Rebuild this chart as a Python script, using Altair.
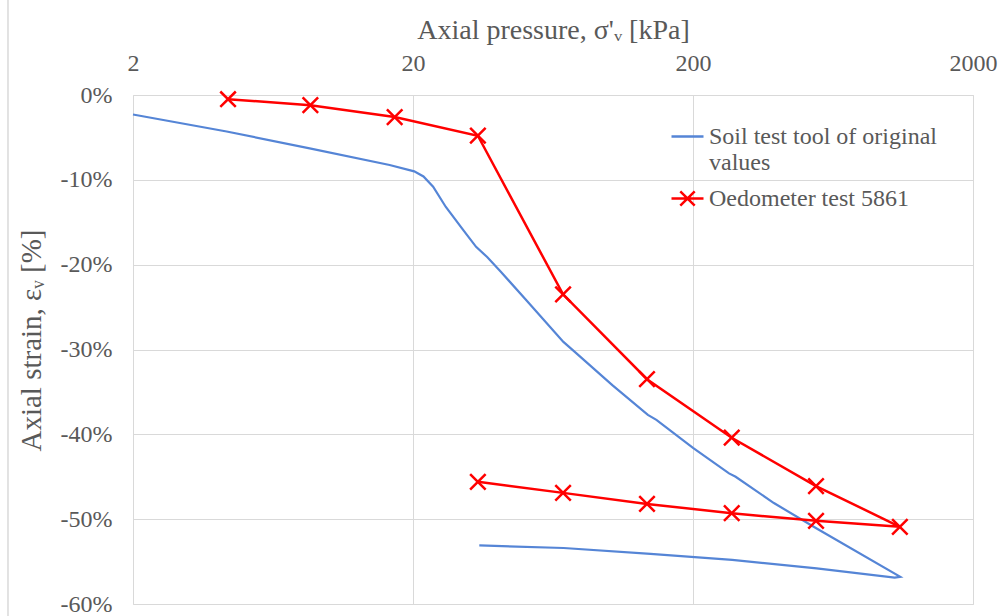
import altair as alt
import pandas as pd

# Soil test tool curve (loading then unloading), pressure in kPa, strain in %
tool_pressure = [2, 4.32, 8.55, 16.5, 20.2, 21.8, 23.6, 26.2, 30.2, 33.6, 36.8, 41.1,
                 50.8, 68.9, 74.6, 103, 138, 148, 200, 269, 284, 389, 553, 1100,
                 1050, 553, 276, 141, 69, 34.5]
tool_strain = [-2.3, -4.3, -6.3, -8.25, -9.0, -9.6, -10.8, -13.2, -15.9, -17.9, -19.1, -20.8,
               -24.2, -29.1, -30.1, -34.2, -37.7, -38.3, -41.6, -44.6, -45.0, -48.1, -51.1, -56.8,
               -56.9, -55.8, -54.8, -54.1, -53.4, -53.1]

# Oedometer test 5861: load steps then unload steps
oedo_pressure = [4.37, 8.6, 17.2, 34.1, 68.7, 137, 275, 550, 1096,
                 550, 275, 137, 68.7, 34.1]
oedo_strain = [-0.5, -1.2, -2.6, -4.8, -23.5, -33.5, -40.4, -46.1, -50.9,
               -50.2, -49.3, -48.2, -46.9, -45.6]

series_names = ["Soil test tool of original values", "Oedometer test 5861"]
series_colors = ["#5585d6", "#ff0000"]

x_ticks = [2, 20, 200, 2000]
y_ticks = [0, -10, -20, -30, -40, -50, -60]

tool_df = pd.DataFrame({"pressure": tool_pressure, "strain": tool_strain,
                        "idx": range(len(tool_pressure))})
oedo_df = pd.DataFrame({"pressure": oedo_pressure, "strain": oedo_strain,
                        "idx": range(len(oedo_pressure))})
legend_df = pd.DataFrame({"series": series_names, "pressure": [2, 2], "strain": [0, 0]})

FONT = "Liberation Serif"
TXT = "#595959"
GRID = "#d9d9d9"
X_MARK = "M-1,-1L1,1M-1,1L1,-1"
# legend glyphs: a plain stroke, and a stroke crossed by an x
LINE_SYM = "M-1,0L1,0"
LINE_X_SYM = "M-1,0L1,0M-0.45,-0.45L0.45,0.45M-0.45,0.45L0.45,-0.45"

x_scale = alt.Scale(type="log", domain=[2, 2000])
y_scale = alt.Scale(domain=[-60, 0], nice=False, zero=False)

x_enc = alt.X(
    "pressure:Q",
    scale=x_scale,
    axis=alt.Axis(
        orient="top", values=x_ticks, format="d", title="Axial pressure, σ'ᵥ [kPa]",
        labelFont=FONT, labelFontSize=24, labelColor=TXT, labelPadding=20, labelFlush=False,
        ticks=False, tickSize=0, domain=False, grid=True, gridColor=GRID,
        titleFont=FONT, titleFontSize=28, titleFontWeight="normal", titleColor=TXT,
        titleBaseline="alphabetic", titleY=-57,
    ),
)
y_enc = alt.Y(
    "strain:Q",
    scale=y_scale,
    axis=alt.Axis(
        values=y_ticks, labelExpr="datum.value + '%'", labelFlush=False,
        title="Axial strain, εᵥ [%]",
        labelFont=FONT, labelFontSize=24, labelColor=TXT, labelPadding=21,
        ticks=False, tickSize=0, domain=False, grid=True, gridColor=GRID,
        titleFont=FONT, titleFontSize=29, titleFontWeight="normal", titleColor=TXT,
        titleBaseline="alphabetic", titleX=-93, titleY=245, titleAngle=270,
    ),
)

tool_line = alt.Chart(tool_df).mark_line(strokeWidth=2.2, color=series_colors[0]).encode(
    x=x_enc, y=y_enc, order=alt.Order("idx:Q"),
)

oedo_line = alt.Chart(oedo_df).mark_line(strokeWidth=2.5, color=series_colors[1]).encode(
    x=alt.X("pressure:Q", scale=x_scale), y=alt.Y("strain:Q", scale=y_scale),
    order=alt.Order("idx:Q"),
)

oedo_points = alt.Chart(oedo_df).mark_point(
    shape=X_MARK, size=240, strokeWidth=2.5, filled=False, opacity=1, color=series_colors[1]
).encode(
    x=alt.X("pressure:Q", scale=x_scale), y=alt.Y("strain:Q", scale=y_scale),
)

legend = alt.Legend(
    orient="none", legendX=537, legendY=24, title=None,
    symbolSize=1024, symbolStrokeWidth=2.5, symbolOpacity=1,
    labelFont=FONT, labelFontSize=24, labelColor=TXT, labelLimit=400, labelOffset=4,
    labelBaseline="middle", rowPadding=6,
    labelExpr="datum.label == 'Soil test tool of original values' ? ['Soil test tool of original', 'values'] : datum.label",
)

# invisible marks that only carry the legend
legend_marks = alt.Chart(legend_df).mark_point(size=1024, opacity=0, filled=False, strokeWidth=2.5).encode(
    x=alt.X("pressure:Q", scale=x_scale), y=alt.Y("strain:Q", scale=y_scale),
    color=alt.Color("series:N", scale=alt.Scale(domain=series_names, range=series_colors), legend=legend),
    shape=alt.Shape("series:N", scale=alt.Scale(domain=series_names, range=[LINE_SYM, LINE_X_SYM]), legend=legend),
)

# thin frame edge on the left of the chart area
frame = alt.Chart(legend_df).mark_rule(color=GRID, strokeWidth=1).encode(
    x=alt.value(-125), y=alt.value(-95), y2=alt.value(521)
)

chart = alt.layer(frame, tool_line, oedo_line, oedo_points, legend_marks).properties(
    width=840, height=509,
    autosize=alt.AutoSizeParams(type="none"),
    padding={"left": 133, "top": 95, "right": 30, "bottom": 12},
).configure_view(stroke=None).configure(background="white")

chart.save("out.html", embed_options={"renderer": "svg", "actions": False})
